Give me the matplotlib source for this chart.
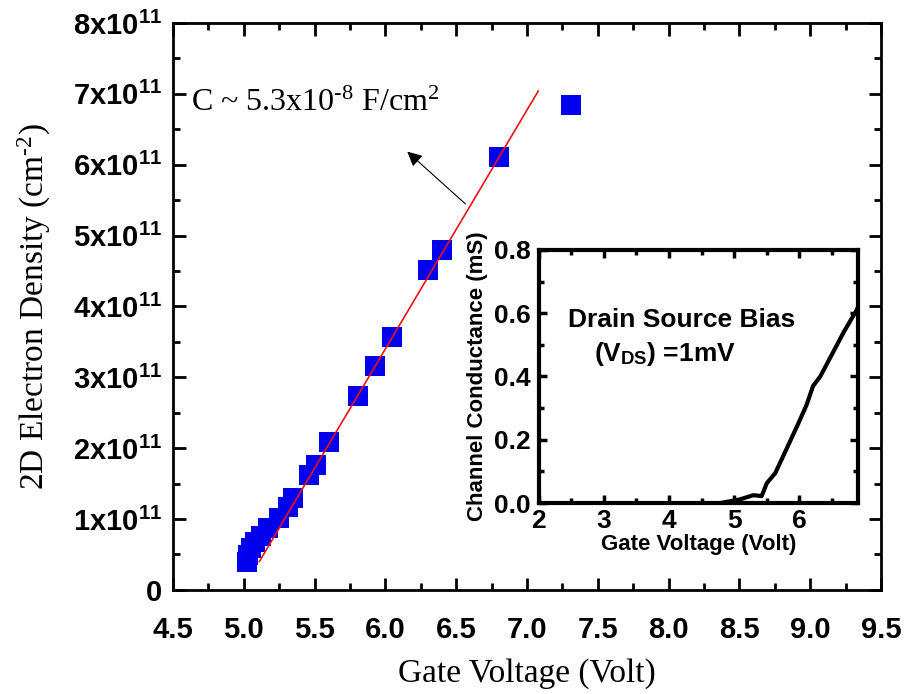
import numpy as np
import matplotlib
matplotlib.use('Agg')
import matplotlib.pyplot as plt
from matplotlib.ticker import MultipleLocator, FuncFormatter

# Data
gate_v = [5.02, 5.03, 5.05, 5.08, 5.12, 5.17, 5.25, 5.31, 5.35, 5.46,
          5.51, 5.60, 5.81, 5.93, 6.05, 6.30, 6.40, 6.80, 7.31]
density = [0.40, 0.49, 0.59, 0.67, 0.76, 0.87, 1.02, 1.17, 1.30, 1.62,
           1.76, 2.09, 2.74, 3.16, 3.57, 4.51, 4.79, 6.11, 6.84]   # x1e11 cm^-2
fit_v = [5.11, 7.08]
fit_n = [0.40, 7.04]

# Inset: channel conductance
ins_v = [2.0, 3.0, 4.0, 4.6, 4.78, 5.09, 5.29, 5.35, 5.42, 5.5, 5.63,
         5.8, 5.98, 6.11, 6.21, 6.32, 6.5, 6.68, 6.88, 6.9]
ins_g = [0.0, 0.0, 0.0, 0.0, 0.0, 0.012, 0.025, 0.024, 0.022, 0.063, 0.095,
         0.17, 0.25, 0.31, 0.37, 0.40, 0.47, 0.54, 0.61, 0.62]

plt.rcParams['mathtext.fontset'] = 'custom'
plt.rcParams['mathtext.rm'] = 'Liberation Serif'
plt.rcParams['mathtext.it'] = 'Liberation Serif:italic'
plt.rcParams['mathtext.bf'] = 'Liberation Sans:bold'
plt.rcParams['xtick.direction'] = 'in'
plt.rcParams['ytick.direction'] = 'in'

fig = plt.figure(figsize=(9.07, 6.94), dpi=100)
ax = fig.add_axes([0.1907, 0.150, 0.7806, 0.817])

ax.plot(gate_v, np.array(density)*1e11, 's', color='#0000ee',
        markersize=14, markeredgewidth=0, zorder=3)
ax.plot(fit_v, np.array(fit_n)*1e11, '-', color='#ee1111', linewidth=1.2,
        zorder=4)

ax.set_xlim(4.5, 9.5)
ax.set_ylim(0, 8e11)
ax.xaxis.set_major_locator(MultipleLocator(0.5))
ax.xaxis.set_minor_locator(MultipleLocator(0.25))
ax.yaxis.set_major_locator(MultipleLocator(1e11))
ax.yaxis.set_minor_locator(MultipleLocator(0.5e11))

def yfmt(v, pos):
    k = int(round(v/1e11))
    if k == 0:
        return '0'
    return r'$\mathbf{%dx10^{11}}$' % k

ax.yaxis.set_major_formatter(FuncFormatter(yfmt))
ax.xaxis.set_major_formatter(FuncFormatter(lambda v, p: '%.1f' % v))
ax.tick_params(which='both', top=True, right=True, width=2)
ax.tick_params(which='major', length=9, labelsize=21, pad=8)
ax.tick_params(axis='x', which='major', pad=19)
ax.tick_params(which='minor', length=5)
for lab in ax.get_xticklabels() + ax.get_yticklabels():
    lab.set_family('Liberation Sans')
    lab.set_fontweight('bold')
for s in ax.spines.values():
    s.set_linewidth(2)

ax.set_xlabel('Gate Voltage (Volt)', family='Liberation Serif', fontsize=24,
              labelpad=10)
ax.set_ylabel('2D Electron Density (cm$^{\u2010 2}$)',
              family='Liberation Serif', fontsize=24, labelpad=14)

ax.text(4.63, 6.87e11, 'C ~ 5.3x10$^{\u20108}$ F/cm$^{2}$',
        family='Liberation Serif', fontsize=23, va='center', ha='left')
ax.annotate('', xy=(6.14, 6.21e11), xytext=(6.58, 5.42e11),
            arrowprops=dict(arrowstyle='-|>', color='black', lw=0.8,
                            mutation_scale=22))

# Inset
ins = fig.add_axes([0.594, 0.275, 0.352, 0.365])
ins.plot(ins_v, ins_g, '-', color='black', linewidth=3)
ins.set_xlim(2, 6.9)
ins.set_ylim(0, 0.8)
ins.xaxis.set_major_locator(MultipleLocator(1))
ins.xaxis.set_minor_locator(MultipleLocator(0.5))
ins.yaxis.set_major_locator(MultipleLocator(0.2))
ins.yaxis.set_minor_locator(MultipleLocator(0.1))
ins.yaxis.set_major_formatter(FuncFormatter(lambda v, p: '%.1f' % v))
ins.tick_params(which='both', top=True, right=True, width=2.5)
ins.tick_params(which='major', length=6, labelsize=19)
ins.tick_params(axis='x', which='major', pad=4)
ins.tick_params(axis='y', which='major', pad=6)
ins.tick_params(which='minor', length=3.5)
for lab in ins.get_xticklabels() + ins.get_yticklabels():
    lab.set_family('Liberation Sans')
    lab.set_fontweight('bold')
for s in ins.spines.values():
    s.set_linewidth(3)
ins.set_xlabel('Gate Voltage (Volt)', family='Liberation Sans',
               fontweight='bold', fontsize=16, labelpad=1)
ins.set_ylabel('Channel Conductance (mS)', family='Liberation Sans',
               fontweight='bold', fontsize=16, labelpad=4)
ins.text(2.45, 0.58, 'Drain Source Bias', family='Liberation Sans',
         fontweight='bold', fontsize=19, va='center', ha='left')
ins.text(2.85, 0.47, r'(V$_{\mathbf{DS}}$) =1mV', family='Liberation Sans',
         fontweight='bold', fontsize=19, va='center', ha='left')

fig.savefig('out.png', dpi=100)
